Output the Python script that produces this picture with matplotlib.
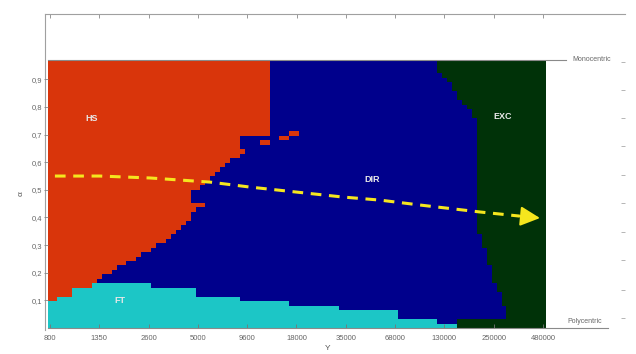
import numpy as np
import matplotlib
matplotlib.use("Agg")
import matplotlib.pyplot as plt
from matplotlib.colors import ListedColormap
from matplotlib.path import Path

plt.rcParams['font.family'] = ['Liberation Sans', 'DejaVu Sans']

# tick labels
y_labels = ['800', '1350', '2600', '5000', '9600', '18000', '35000',
            '68000', '130000', '250000', '480000']
alpha_ticks = [0.1, 0.2, 0.3, 0.4, 0.5, 0.6, 0.7, 0.8, 0.9]
alpha_labels = ['0,1', '0,2', '0,3', '0,4', '0,5', '0,6', '0,7', '0,8', '0,9']

# regimes: 0 HS, 1 DIR, 2 FT, 3 EXC
regime_names = ['HS', 'DIR', 'FT', 'EXC']
regime_colors = ['#d9350b', '#00008c', '#1cc6c6', '#003208']

# HS region outline (x in tick index units, alpha)
hs_x = [-0.2, 4.42, 4.42, 3.81, 3.81, 4.06, 3.89, 3.71, 3.55, 3.39, 3.25,
        3.08, 2.84, 2.84, 3.20, 3.20, 2.94, 2.78, 2.64, 2.37, 2.03, 1.68,
        1.28, 1.08, 0.85, 0.85, -0.2]
hs_y = [1.05, 1.05, 0.695, 0.695, 0.655, 0.651, 0.633, 0.608, 0.583, 0.561,
        0.536, 0.510, 0.499, 0.452, 0.449, 0.434, 0.427, 0.380, 0.355, 0.318,
        0.282, 0.246, 0.210, 0.185, 0.163, -0.05, -0.05]
# isolated HS cells past the DIR front: (x0, x1, y0, y1)
hs_bits = [(4.83, 5.01, 0.699, 0.717),
           (4.62, 4.81, 0.677, 0.695),
           (4.22, 4.42, 0.662, 0.680)]

# FT: upper limit of alpha, stepwise in x
ft_edges = [-0.2, 0.20, 0.45, 0.81, 2.03, 2.98, 3.85, 4.83, 5.84, 7.04, 7.85, 8.26]
ft_top = [0.101, 0.116, 0.138, 0.163, 0.141, 0.119, 0.101, 0.083, 0.062, 0.040, 0.022]

# EXC region outline
exc_x = [7.67, 7.85, 8.05, 8.21, 8.32, 8.46, 8.62, 8.66, 8.66, 8.82, 8.99,
         9.17, 9.27, 9.27, 8.26, 8.26, 10.2, 10.2]
exc_y = [1.05, 0.934, 0.898, 0.861, 0.825, 0.796, 0.753, 0.72, 0.355, 0.282,
         0.174, 0.090, 0.058, 0.040, 0.040, -0.05, -0.05, 1.05]

# dashed trajectory
arrow_x = [0.10, 1.01, 2.03, 3.25, 4.06, 5.94, 6.69, 7.51, 8.72, 9.53]
arrow_y = [0.550, 0.550, 0.543, 0.528, 0.510, 0.474, 0.463, 0.445, 0.420, 0.405]
arrow_tip = (9.94, 0.398)

label_pos = {'HS': (0.85, 0.76), 'DIR': (6.53, 0.536),
             'EXC': (9.19, 0.764), 'FT': (1.42, 0.098)}

# raster grid
x0, x1, ytop = -0.05, 10.05, 0.97
ncol, nrow = 101, 60
xc = x0 + (np.arange(ncol) + 0.5) * (x1 - x0) / ncol
yc = (np.arange(nrow) + 0.5) * ytop / nrow
XX, YY = np.meshgrid(xc, yc)
pts = np.column_stack([XX.ravel(), YY.ravel()])

grid = np.ones_like(XX, dtype=int)
hs_mask = Path(np.column_stack([hs_x, hs_y])).contains_points(pts).reshape(XX.shape)
for bx0, bx1, by0, by1 in hs_bits:
    hs_mask |= (XX > bx0) & (XX < bx1) & (YY > by0) & (YY < by1)
grid[hs_mask] = 0
idx = np.searchsorted(ft_edges, xc, side='right') - 1
ok = (idx >= 0) & (idx < len(ft_top))
top = np.where(ok, np.array(ft_top)[np.clip(idx, 0, len(ft_top) - 1)], -1)
grid[YY < top[None, :]] = 2
exc_mask = Path(np.column_stack([exc_x, exc_y])).contains_points(pts).reshape(XX.shape)
grid[exc_mask] = 3

fig = plt.figure(figsize=(6.36, 3.54), dpi=100)
W, H = 636, 354

# outer frame
outer = fig.add_axes([45 / W, (H - 330) / H, (625 - 45) / W, (330 - 14) / H])
outer.set_xlim(-0.10, 11.66)
outer.set_ylim(-0.007, 1.136)
outer.patch.set_alpha(0)
for s in ['bottom', 'right']:
    outer.spines[s].set_visible(False)
for s in ['top', 'left']:
    outer.spines[s].set_color('#a0a0a0')
    outer.spines[s].set_linewidth(0.8)
outer.xaxis.tick_top()
outer.set_xticks(range(11))
outer.set_xticklabels([])
outer.tick_params(axis='x', direction='in', length=3, color='#888888', width=0.6)
outer.yaxis.tick_right()
outer.set_yticks([0.036, 0.137, 0.246, 0.347, 0.452, 0.554, 0.659, 0.760, 0.861, 0.963])
outer.set_yticklabels([])
outer.tick_params(axis='y', direction='in', length=3, color='#aaaaaa', width=0.6)

# map
ax = fig.add_axes([48 / W, (H - 328) / H, (608 - 48) / W, (328 - 60) / H])
ax.set_xlim(-0.04, 11.32)
ax.set_ylim(0, ytop)
ax.imshow(grid, cmap=ListedColormap(regime_colors), vmin=-0.5, vmax=3.5,
          origin='lower', interpolation='nearest', aspect='auto',
          extent=(x0, x1, 0, ytop))
for s in ['top', 'right', 'left']:
    ax.spines[s].set_visible(False)
ax.spines['bottom'].set_color('#8a8a8a')
ax.spines['bottom'].set_linewidth(0.8)
ax.plot([-0.04, 10.47], [ytop, ytop], color='#8a8a8a', lw=0.8, clip_on=False)

ax.set_xticks(range(11))
ax.set_xticklabels(y_labels)
ax.tick_params(axis='x', direction='in', length=3, color='#777777', width=0.6,
               labelsize=5.5, labelcolor='#666666', pad=5)
ax.set_yticks(alpha_ticks)
ax.set_yticklabels(alpha_labels)
ax.tick_params(axis='y', direction='out', length=3, color='#888888', width=0.6,
               labelsize=5.5, labelcolor='#666666', pad=1)
ax.set_xlabel('Y', fontsize=6, color='#555555', labelpad=2)
ax.set_ylabel('α', fontsize=6, color='#555555', labelpad=5)

ax.text(10.6, ytop, 'Monocentric', fontsize=5, color='#666666', va='center', ha='left')
ax.text(10.5, 0.012, 'Polycentric', fontsize=5, color='#666666', va='bottom', ha='left')

for name in regime_names:
    lx, ly = label_pos[name]
    ax.text(lx, ly, name, fontsize=6.5, fontweight='bold', color='#e8e8e8',
            ha='center', va='center')

ax.plot(arrow_x, arrow_y, color='#f5e61e', lw=2.2, dashes=(3.5, 2.5),
        solid_capstyle='butt')
ax.annotate('', xy=arrow_tip, xytext=(arrow_x[-1], arrow_y[-1]),
            arrowprops=dict(arrowstyle='-|>,head_length=1.2,head_width=0.6',
                            color='#f5e61e', lw=1.5, mutation_scale=10,
                            shrinkA=0, shrinkB=0))

fig.savefig('out.png', dpi=100)
